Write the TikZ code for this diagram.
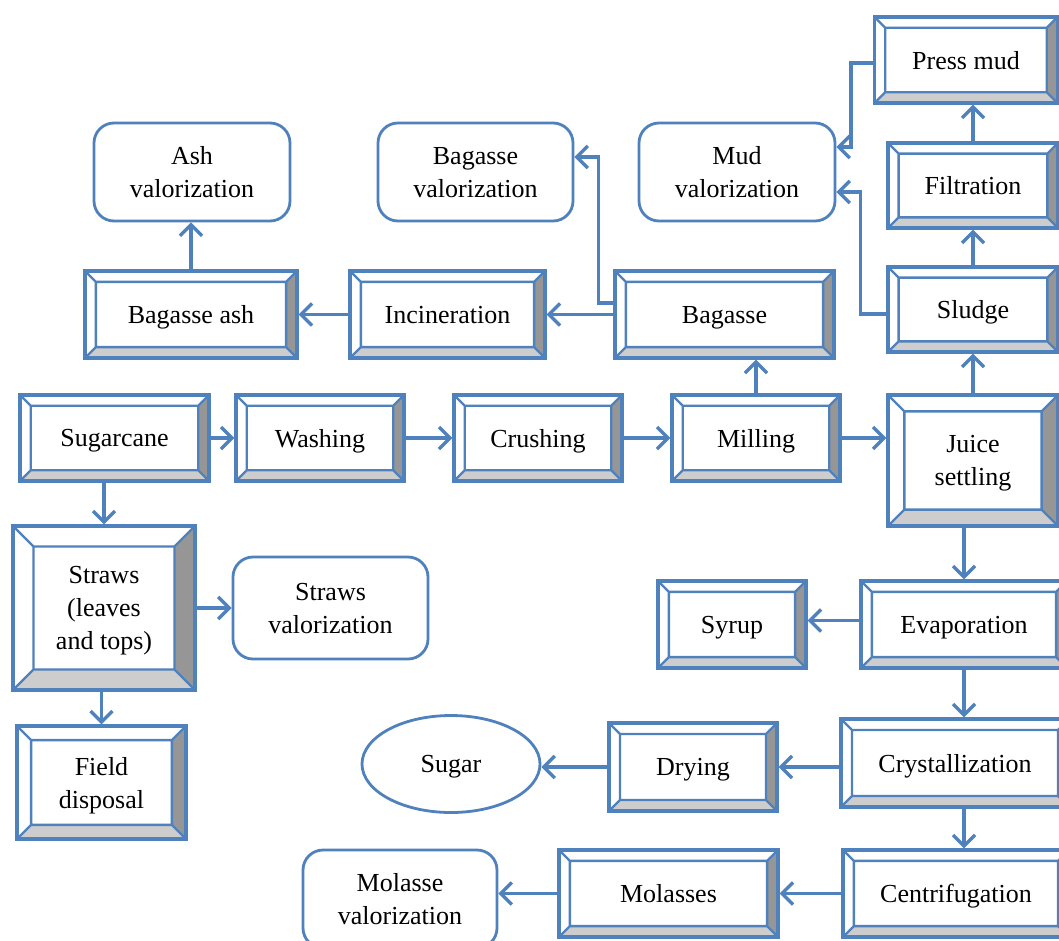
\documentclass[tikz,border=0pt]{standalone}
\usepackage{fontspec}
\setmainfont{Liberation Serif}
\usetikzlibrary{arrows.meta,calc,shapes.geometric}

\definecolor{linec}{RGB}{79,129,189}
\definecolor{bevdark}{RGB}{150,150,150}
\definecolor{bevlight}{RGB}{205,205,205}

\tikzset{
    stage/.style 2 args={draw=linec, line width=3.2pt, fill=white, rectangle, align=center,
        inner sep=0pt, text depth=0pt, minimum width=#1pt, minimum height=#2pt, font=\fontsize{26}{33}\selectfont,
        path picture={
            \fill[bevdark] let \p1=(path picture bounding box.south west), \p2=(path picture bounding box.north east),
                \n1={0.125*min(\x2-\x1,\y2-\y1)} in
                (\x2,\y1) -- (\x2,\y2) -- (\x2-\n1,\y2-\n1) -- (\x2-\n1,\y1+\n1) -- cycle;
            \fill[bevlight] let \p1=(path picture bounding box.south west), \p2=(path picture bounding box.north east),
                \n1={0.125*min(\x2-\x1,\y2-\y1)} in
                (\x1,\y1) -- (\x2,\y1) -- (\x2-\n1,\y1+\n1) -- (\x1+\n1,\y1+\n1) -- cycle;
            \draw[linec, line width=2.4pt] let \p1=(path picture bounding box.south west), \p2=(path picture bounding box.north east),
                \n1={0.125*min(\x2-\x1,\y2-\y1)} in
                (\x1+\n1,\y1+\n1) rectangle (\x2-\n1,\y2-\n1)
                (\x1,\y1) -- (\x1+\n1,\y1+\n1) (\x1,\y2) -- (\x1+\n1,\y2-\n1)
                (\x2,\y2) -- (\x2-\n1,\y2-\n1) (\x2,\y1) -- (\x2-\n1,\y1+\n1);
        }},
    valor/.style 2 args={draw=linec, line width=2.8pt, fill=white, rectangle, rounded corners=20pt,
        align=center, inner sep=0pt, text depth=0pt, minimum width=#1pt, minimum height=#2pt,
        font=\fontsize{26}{33}\selectfont},
    product/.style={draw=linec, line width=2.8pt, ellipse, inner sep=0pt, text depth=0pt,
        minimum width=178pt, minimum height=97pt, font=\fontsize{26}{33}\selectfont},
    flow/.style={draw=linec, line width=3.4pt, -{Straight Barb[length=11pt,width=22pt]}}
}

\begin{document}
\begin{tikzpicture}[x=1pt, y=-1pt]
    \useasboundingbox[fill=white] (0,0) rectangle (1059,940);

    % main line
    \node[stage={189}{86}] (sugarcane) at (114.5,438) {Sugarcane};
    \node[stage={168}{86}] (washing) at (320,438) {Washing};
    \node[stage={168}{86}] (crushing) at (538,438) {Crushing};
    \node[stage={168}{86}] (milling) at (756,438) {Milling};
    \node[stage={170}{131}] (juice) at (973,460.5) {Juice\\settling};

    % bagasse branch
    \node[stage={219}{87}] (bagasse) at (724.5,314.5) {Bagasse};
    \node[stage={195}{87}] (incin) at (447.5,314.5) {Incineration};
    \node[stage={212}{87}] (ash) at (191,314.5) {Bagasse ash};
    \node[valor={196}{98}] (ashval) at (192,172) {Ash\\valorization};
    \node[valor={195}{98}] (bagval) at (475.5,172) {Bagasse\\valorization};

    % mud branch
    \node[stage={170}{85}] (sludge) at (973,309.5) {Sludge};
    \node[stage={170}{85}] (filtration) at (973,185.5) {Filtration};
    \node[stage={183}{86}] (pressmud) at (966,60) {Press mud};
    \node[valor={196}{98}] (mudval) at (737,172) {Mud\\valorization};

    % straws branch
    \node[stage={182}{164}] (straws) at (104,608) {Straws\\(leaves\\and tops)};
    \node[stage={169}{113}] (field) at (101.5,782.5) {Field\\disposal};
    \node[valor={195}{102}] (strawval) at (330.5,608) {Straws\\valorization};

    % sugar line
    \node[stage={206}{87}] (evap) at (964,624.5) {Evaporation};
    \node[stage={148}{87}] (syrup) at (732,624.5) {Syrup};
    \node[stage={228}{88}] (cryst) at (955,763) {Crystallization};
    \node[stage={168}{88}] (drying) at (693,767) {Drying};
    \node[product] (sugar) at (451,764) {Sugar};
    \node[stage={226}{87}] (centrif) at (956,893.5) {Centrifugation};
    \node[stage={219}{87}] (molasses) at (668.5,893.5) {Molasses};
    \node[valor={194}{98}] (molval) at (400,899) {Molasse\\valorization};

    \draw[flow] (sugarcane.east) -- (washing.west);
    \draw[flow] (washing.east) -- (crushing.west);
    \draw[flow] (crushing.east) -- (milling.west);
    \draw[flow] (milling.east) -- (milling.east -| juice.west);
    \draw[flow] (milling.north) -- (milling.north |- bagasse.south);
    \draw[flow] (bagasse.west) -- (incin.east);
    \draw[flow] (incin.west) -- (ash.east);
    \draw[flow] (ash.north) -- (ash.north |- ashval.south);
    \draw[flow] ([yshift=11.5pt]bagasse.west) -- ++(-15pt,0) |- ([yshift=15pt]bagval.east);

    \draw[flow] (juice.north) -- (sludge.south);
    \draw[flow] (sludge.north) -- (filtration.south);
    \draw[flow] (filtration.north) -- (filtration.north |- pressmud.south);
    \draw[flow] ([yshift=-3pt]pressmud.west) -- ++(-22pt,0) |- ([yshift=25pt]mudval.east);
    \draw[flow] ([yshift=-4.5pt]sludge.west) -- ++(-26pt,0) |- ([yshift=-20pt]mudval.east);

    \draw[flow] (straws.north |- sugarcane.south) -- (straws.north);
    \draw[flow] (straws.east) -- (strawval.west);
    \draw[flow] (field.north |- straws.south) -- (field.north);

    \draw[flow] (evap.north |- juice.south) -- (evap.north);
    \draw[flow] ([yshift=4pt]evap.west) -- ([yshift=4pt]syrup.east);
    \draw[flow] (evap.south) -- (evap.south |- cryst.north);
    \draw[flow] (cryst.west |- drying.east) -- (drying.east);
    \draw[flow] (drying.west) -- (drying.west -| sugar.east);
    \draw[flow] (evap.south |- cryst.south) -- (evap.south |- centrif.north);
    \draw[flow] (centrif.west) -- (molasses.east);
    \draw[flow] (molasses.west) -- (molasses.west -| molval.east);
\end{tikzpicture}
\end{document}
